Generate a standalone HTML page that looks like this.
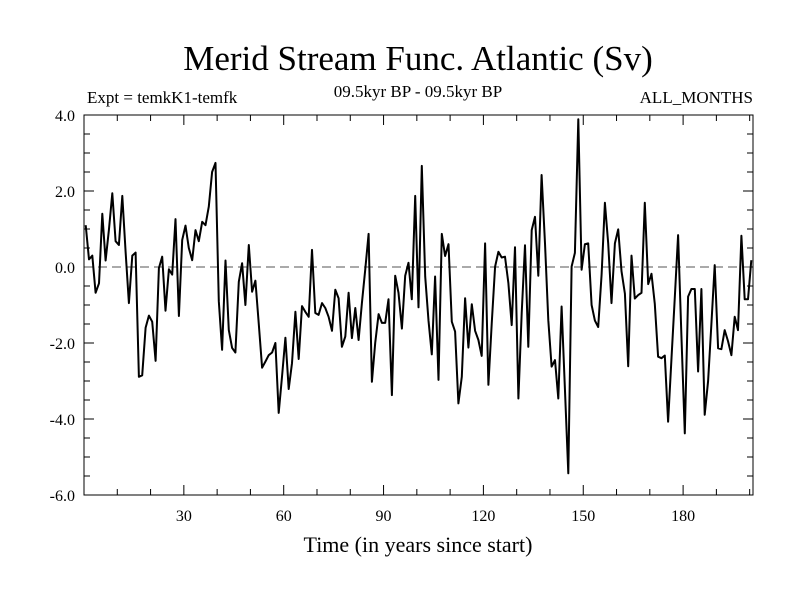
<!DOCTYPE html>
<html><head><meta charset="utf-8">
<style>
body{margin:0;background:#fff;}
svg{display:block;font-family:"Liberation Serif",serif;}
</style></head>
<body>
<svg id="chart" width="800" height="600" viewBox="0 0 800 600" xmlns="http://www.w3.org/2000/svg">
<rect width="800" height="600" fill="#fff"/>
<text x="418" y="70" font-size="35" text-anchor="middle">Merid Stream Func. Atlantic (Sv)</text>
<text x="87" y="103" font-size="17">Expt = temkK1-temfk</text>
<text x="418" y="97" font-size="17" text-anchor="middle">09.5kyr BP - 09.5kyr BP</text>
<text x="753" y="103" font-size="17" text-anchor="end">ALL_MONTHS</text>
<text x="418" y="552" font-size="22" text-anchor="middle">Time (in years since start)</text>
<g id="ticks"></g>
<g id="labels"></g>
<line id="zero" stroke="#555" stroke-width="1" stroke-dasharray="9,5"/>
<path id="series" fill="none" stroke="#000" stroke-width="2" stroke-linejoin="round"/>
<rect x="84" y="115" width="669" height="380" fill="none" stroke="#000" stroke-width="1"/>
</svg>
<script>
const years=[];for(let i=1;i<=201;i++)years.push(i);
const values=[1.1,0.2,0.3,-0.68,-0.43,1.4,0.17,1.0,1.94,0.68,0.58,1.87,0.4,-0.95,0.3,0.38,-2.89,-2.85,-1.6,-1.28,
-1.44,-2.47,-0.03,0.27,-1.15,-0.06,-0.2,1.26,-1.29,0.71,1.09,0.5,0.18,0.97,0.68,1.19,1.1,1.59,2.5,2.74,
-0.9,-2.18,0.17,-1.66,-2.13,-2.25,-0.39,0.1,-1.0,0.58,-0.65,-0.36,-1.47,-2.65,-2.49,-2.32,-2.25,-2.0,-3.84,-2.89,
-1.86,-3.21,-2.53,-1.18,-2.42,-1.03,-1.18,-1.31,0.45,-1.21,-1.26,-0.95,-1.08,-1.31,-1.68,-0.6,-0.82,-2.1,-1.83,-0.68,
-1.87,-1.08,-1.92,-0.95,-0.08,0.87,-3.02,-2.0,-1.24,-1.47,-1.47,-0.85,-3.37,-0.23,-0.68,-1.62,-0.23,0.11,-0.85,1.87,
-1.06,2.66,-0.25,-1.41,-2.3,-0.25,-2.97,0.87,0.29,0.6,-1.44,-1.7,-3.59,-2.89,-0.82,-2.12,-0.98,-1.68,-1.92,-2.34,
0.62,-3.1,-1.5,0.01,0.4,0.25,0.27,-0.43,-1.53,0.52,-3.46,-1.21,0.57,-2.1,0.97,1.32,-0.23,2.42,0.62,-1.4,
-2.62,-2.45,-3.46,-1.04,-3.2,-5.43,0.01,0.37,3.89,-0.07,0.6,0.62,-1.0,-1.41,-1.58,-0.2,1.69,0.62,-0.95,0.62,
0.99,-0.11,-0.7,-2.61,0.3,-0.83,-0.74,-0.68,1.69,-0.45,-0.18,-0.97,-2.36,-2.4,-2.33,-4.07,-2.4,-0.8,0.84,-1.8,
-4.38,-0.78,-0.58,-0.58,-2.75,-0.58,-3.89,-3.0,-1.5,0.05,-2.14,-2.16,-1.66,-1.95,-2.32,-1.31,-1.66,0.82,-0.85,-0.85,0.18];
const xTickLabels=[30,60,90,120,150,180];
const yTickLabels=[4.0,2.0,0.0,-2.0,-4.0,-6.0];
const X0=84,X1=753,Y0=115,Y1=495;
function xs(t){return X0+(t)*(X1-X0)/201;}
function ys(v){return Y1-(v+6)*(Y1-Y0)/10;}
const NS='http://www.w3.org/2000/svg';
const tg=document.getElementById('ticks'),lg=document.getElementById('labels');
function ln(x1,y1,x2,y2){const l=document.createElementNS(NS,'line');l.setAttribute('x1',x1);l.setAttribute('y1',y1);l.setAttribute('x2',x2);l.setAttribute('y2',y2);l.setAttribute('stroke','#000');l.setAttribute('stroke-width','1');


tg.appendChild(l);}
for(let v=-6;v<=4.001;v+=0.5){const y=ys(v);const L=(Math.abs(v%2)<0.01)?10:6;ln(X0,y,X0+L,y);ln(X1,y,X1-L,y);}
for(let t=10;t<=200;t+=10){const x=xs(t);const L=(t%30===0)?10:6;ln(x,Y1,x,Y1-L);ln(x,Y0,x,Y0+L);}
yTickLabels.forEach(v=>{const t=document.createElementNS(NS,'text');t.setAttribute('x',75);t.setAttribute('y',ys(v)+6);t.setAttribute('text-anchor','end');t.setAttribute('font-size','16');t.textContent=v.toFixed(1);


lg.appendChild(t);});
xTickLabels.forEach(v=>{const t=document.createElementNS(NS,'text');t.setAttribute('x',xs(v));t.setAttribute('y',521);t.setAttribute('text-anchor','middle');t.setAttribute('font-size','16');t.textContent=v;


lg.appendChild(t);});
const z=document.getElementById('zero');z.setAttribute('x1',X0);z.setAttribute('x2',X1);z.setAttribute('y1',ys(0));z.setAttribute('y2',ys(0));
let d='';values.forEach((v,i)=>{d+=(i?'L':'M')+xs(years[i]-0.5).toFixed(1)+','+ys(v).toFixed(1);});
document.getElementById('series').setAttribute('d',d);
</script>
</body></html>
